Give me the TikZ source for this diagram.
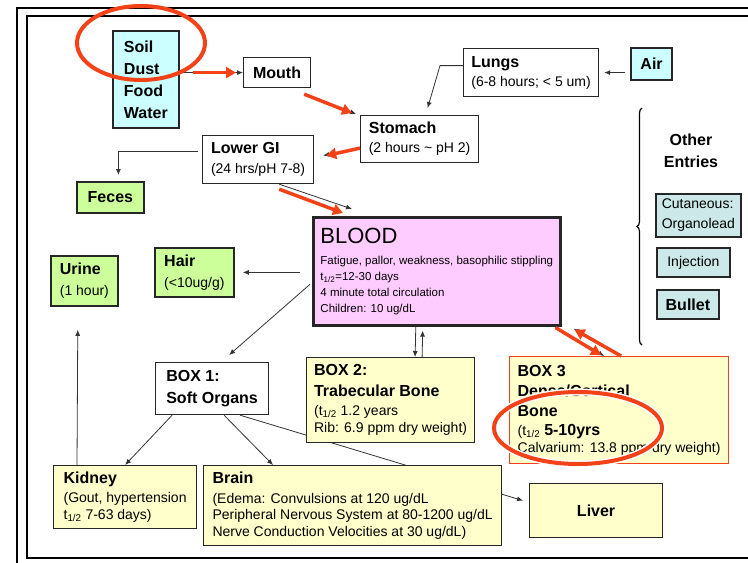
\documentclass[tikz,border=0pt]{standalone}
\usepackage{fontspec}
\setmainfont{Liberation Sans}
\usetikzlibrary{arrows.meta,backgrounds,decorations.pathreplacing}

\definecolor{soilcyan}{RGB}{204,255,255}
\definecolor{exitgreen}{RGB}{204,255,153}
\definecolor{bloodpink}{RGB}{255,204,255}
\definecolor{organyellow}{RGB}{255,255,204}
\definecolor{entryteal}{RGB}{204,232,232}
\definecolor{markred}{RGB}{244,66,24}

\newcommand{\bhead}[1]{{\fontsize{16}{19}\selectfont\bfseries #1}}

\begin{document}
\begin{tikzpicture}[x=1pt, y=-1pt,
      compart/.style = {draw=black!85, line width=1.2pt, rectangle, anchor=north west,
                        align=left, inner sep=0pt, font=\fontsize{14}{17}\selectfont},
      exit/.style = {compart, fill=exitgreen, line width=1.8pt},
      organ/.style = {compart, fill=organyellow},
      entry/.style = {compart, fill=entryteal, line width=1.8pt},
      arrow/.style = {draw=black!80, line width=0.8pt, -{Latex[length=6pt,width=5pt]}},
      redarrow/.style = {draw=markred, line width=3.5pt, -{Triangle[length=10pt,width=11pt]}}]
    \useasboundingbox (0,0) rectangle (748,563);

    % frame
    \draw[line width=2pt] (17,563) -- (17,8) -- (748,8);
    \draw[line width=2pt] (748,558) -- (27,558) -- (27,16) -- (748,16);

    % nodes
    \node[compart, fill=soilcyan, line width=1.8pt, minimum width=66pt, minimum height=97pt,
          font=\fontsize{16}{22}\selectfont\bfseries] (soil) at (112,30) {Soil\\Dust\\Food\\Water};
    \node[compart, minimum width=67pt, minimum height=30pt] (mouth) at (243,57) {\bhead{Mouth}};
    \node[compart, minimum width=135pt, minimum height=48pt] (lungs) at (463,48) {\bhead{Lungs}\\[2pt](6-8 hours; < 5 um)};
    \node[compart, fill=soilcyan, line width=2.2pt, minimum width=41pt, minimum height=32pt] (air) at (630,47) {\bhead{Air}};
    \node[compart, minimum width=118pt, minimum height=47pt] (stomach) at (360,115) {\bhead{Stomach}\\[2pt](2 hours \textasciitilde{} pH 2)};
    \node[compart, minimum width=111pt, minimum height=48pt] (lowergi) at (202,135) {\bhead{Lower GI}\\[3pt](24 hrs/pH 7-8)};
    \node[exit, minimum width=67pt, minimum height=31pt] (feces) at (76,181) {\bhead{Feces}};
    \node[compart, fill=bloodpink, line width=2.6pt, minimum width=247pt, minimum height=108pt,
          font=\fontsize{11.5}{16}\selectfont] (blood) at (312,216)
          {{\fontsize{22}{24}\selectfont BLOOD}\\[5pt]
           Fatigue, pallor, weakness, basophilic stippling\\
           t\textsubscript{1/2}=12-30 days\\
           4 minute total circulation\\
           Children: 10 ug/dL};
    \node[exit, minimum width=79pt, minimum height=49pt] (hair) at (154,247) {\bhead{Hair}\\[4pt](<10ug/g)};
    \node[exit, minimum width=67pt, minimum height=50pt] (urine) at (50,255) {\bhead{Urine}\\[4pt](1 hour)};
    \node[compart, minimum width=113pt, minimum height=52pt] (box1) at (155,362) {\bhead{BOX 1:}\\[5pt]\bhead{Soft Organs}};
    \node[organ, minimum width=168pt, minimum height=85pt] (box2) at (306,357)
          {\bhead{BOX 2:}\\[4pt]\bhead{Trabecular Bone}\\[2pt](t\textsubscript{1/2} 1.2 years\\Rib: 6.9 ppm dry weight)};
    \node[organ, draw=markred, minimum width=219pt, minimum height=107pt] (box3) at (509,356)
          {\bhead{BOX 3}\\[3pt]\bhead{Dense/Cortical}\\[3pt]\bhead{Bone}\\[2pt]
           (t\textsubscript{1/2}\ \bhead{5-10yrs}\\Calvarium: 13.8 ppm dry weight)};
    \node[organ, minimum width=143pt, minimum height=63pt] (kidney) at (53,465)
          {\bhead{Kidney}\\[2pt](Gout, hypertension\\t\textsubscript{1/2} 7-63 days)};
    \node[organ, minimum width=298pt, minimum height=80pt, font=\fontsize{14}{16.5}\selectfont] (brain) at (203,465)
          {\bhead{Brain}\\[3pt](Edema: Convulsions at 120 ug/dL\\Peripheral Nervous System at 80-1200 ug/dL\\Nerve Conduction Velocities at 30 ug/dL)};
    \node[organ, minimum width=133pt, minimum height=54pt] (liver) at (529,483) {\bhead{Liver}};
    \node[align=center, font=\fontsize{16}{22}\selectfont\bfseries] (other) at (691,151) {Other\\Entries};
    \node[entry, minimum width=85pt, minimum height=43pt, font=\fontsize{14}{20}\selectfont] (cutaneous) at (655,193) {Cutaneous:\\Organolead};
    \node[entry, minimum width=73pt, minimum height=29pt] (injection) at (656,247) {Injection};
    \node[entry, minimum width=62pt, minimum height=29pt] (bullet) at (656,289) {\bhead{Bullet}};

    % brace for the other entries
    \draw[line width=1.2pt, decorate, decoration={brace, amplitude=5pt}] (642,345) -- (642,108);

    % edges
    \draw[arrow] (soil.east |- mouth.west) -- (mouth.west);
    \draw[arrow] ([xshift=-7pt,yshift=-6pt]mouth.south east) -- ([xshift=-4pt,yshift=1pt]stomach.north west);
    \draw[arrow, shorten <=5pt, shorten >=5pt] (air.west |- lungs.east) -- (lungs.east);
    \draw[arrow] ([yshift=7pt]lungs.west) -- ++(-23,0) -- ([xshift=8pt,yshift=7pt]stomach.north);
    \draw[arrow] ([yshift=-9pt]stomach.west) -- ([xshift=9pt,yshift=4pt]lowergi.east);
    \draw[arrow, shorten <=4pt] ([yshift=8pt]lowergi.west) -| ([xshift=8pt,yshift=6pt]feces.north);
    \draw[arrow] ([xshift=-35pt]lowergi.south east) -- ([xshift=40pt,yshift=7pt]blood.north west);
    \draw[arrow, shorten <=12pt, shorten >=8pt] (blood.west |- hair.east) -- (hair.east);
    \draw[arrow] ([xshift=-2pt,yshift=-13pt]blood.west) -- ([xshift=17pt,yshift=7pt]box1.north);
    \draw[arrow] ([xshift=-21pt]blood.south) -- ([xshift=24.5pt]box2.north);
    \draw[arrow, shorten >=4pt] ([xshift=31.5pt]box2.north) -- ([xshift=-14pt]blood.south);
    \draw[arrow] ([xshift=-7pt]blood.south east) -- ([xshift=-15pt]box3.north);
    \draw[arrow] ([xshift=1pt]box3.north) -- ([xshift=12pt,yshift=-2pt]blood.south east);
    \draw[arrow] ([xshift=-40pt]box1.south) -- (kidney.north);
    \draw[arrow] ([xshift=12pt]box1.south) -- ([xshift=70pt]brain.north west);
    \draw[arrow, shorten >=23pt] ([xshift=24pt]kidney.north west) -- ([xshift=-6.5pt]urine.south);
    \begin{pgfonlayer}{background}
      \draw[arrow] ([xshift=28pt]box1.south) -- ([xshift=-6pt,yshift=10pt]liver.west);
    \end{pgfonlayer}

    % red marks
    \draw[redarrow, shorten <=13pt, shorten >=7pt] (soil.east |- mouth.west) -- (mouth.west);
    \draw[redarrow] ([xshift=-7pt,yshift=-6pt]mouth.south east) -- ([xshift=-8pt,yshift=2pt]stomach.north west);
    \draw[redarrow] ([yshift=-9pt]stomach.west) -- ([xshift=12pt,yshift=4pt]lowergi.east);
    \draw[redarrow] ([xshift=-35pt,yshift=-5pt]lowergi.south east) -- ([xshift=31pt,yshift=3pt]blood.north west);
    \draw[redarrow] ([xshift=-6pt,yshift=-1pt]blood.south east) -- ([xshift=-18pt,yshift=1pt]box3.north);
    \draw[redarrow] ([xshift=2pt]box3.north) -- ([xshift=13pt,yshift=-3pt]blood.south east);
    \draw[markred, line width=4pt] (141,43) ellipse [x radius=64pt, y radius=37pt];
    \draw[white, line width=7pt] (578,428) ellipse [x radius=84pt, y radius=36pt];
    \draw[markred, line width=4pt] (578,428) ellipse [x radius=84pt, y radius=36pt];
  \end{tikzpicture}
\end{document}
